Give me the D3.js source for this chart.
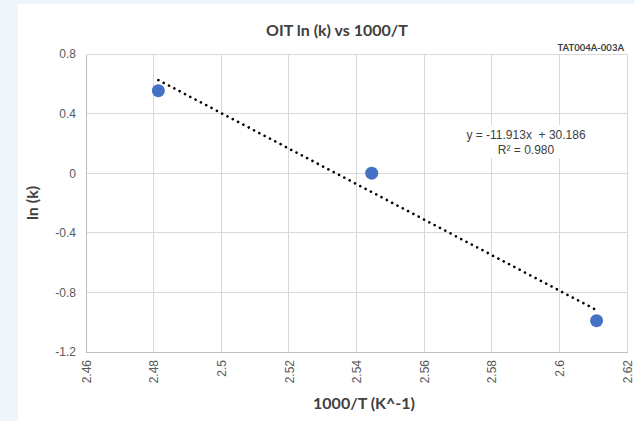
<!DOCTYPE html>
<html><head><meta charset="utf-8">
<script src="https://cdn.jsdelivr.net/npm/d3@7"></script>
<style>html,body{margin:0;padding:0;background:#fff;}svg{display:block;}</style>
</head><body>
<svg id="c" width="635" height="421"></svg>
<script>
const xValues = [2.4814, 2.5445, 2.6110];
const yValues = [0.554, 0.0, -0.99];
const xTicks = [2.46, 2.48, 2.5, 2.52, 2.54, 2.56, 2.58, 2.6, 2.62];
const yTicks = [0.8, 0.4, 0, -0.4, -0.8, -1.2];
const trendSlope = -11.913;
const trendIntercept = 30.186;
const title = "OIT ln (k) vs 1000/T";
const xTitle = "1000/T (K^-1)";
const yTitle = "ln (k)";
const tag = "TAT004A-003A";
const eqLines = ["y = -11.913x  + 30.186", "R² = 0.980"];

const svg = d3.select("#c");
// background
svg.append("rect").attr("x",0).attr("y",0).attr("width",635).attr("height",421).attr("fill","#eef5fb");
svg.append("rect").attr("x",18).attr("y",4).attr("width",617).attr("height",417).attr("fill","#ffffff");

const L=86, R=627, T=54, B=352;
const x = d3.scaleLinear().domain([2.46,2.62]).range([L,R]);
const y = d3.scaleLinear().domain([-1.2,0.8]).range([B,T]);

// gridlines
svg.append("g").selectAll("line").data(xTicks).join("line")
  .attr("x1",d=>x(d)).attr("x2",d=>x(d)).attr("y1",T).attr("y2",B)
  .attr("stroke","#d9d9d9").attr("stroke-width",1).attr("shape-rendering","crispEdges");
svg.append("g").selectAll("line").data(yTicks).join("line")
  .attr("x1",L).attr("x2",R).attr("y1",d=>y(d)).attr("y2",d=>y(d))
  .attr("stroke","#d9d9d9").attr("stroke-width",1).attr("shape-rendering","crispEdges");

// axes
const xAxis = d3.axisBottom(x).tickValues(xTicks).tickSize(0).tickFormat(d=>String(+d.toFixed(2)));
const gx = svg.append("g").attr("transform",`translate(0,${B})`).call(xAxis);
gx.select(".domain").attr("stroke","#bfbfbf").attr("shape-rendering","crispEdges");
gx.selectAll("text").attr("font-family","Liberation Sans, Arial, sans-serif").attr("font-size",12).attr("fill","#595959")
  .attr("transform","rotate(-90)").attr("text-anchor","end").attr("x",-8).attr("y",0).attr("dy","0.35em");

const yAxis = d3.axisLeft(y).tickValues(yTicks).tickSize(0).tickFormat(d=>String(+d.toFixed(1)));
const gy = svg.append("g").attr("transform",`translate(${L},0)`).call(yAxis);
gy.select(".domain").attr("stroke","#bfbfbf").attr("shape-rendering","crispEdges");
gy.selectAll("text").attr("font-family","Liberation Sans, Arial, sans-serif").attr("font-size",12).attr("fill","#595959").attr("x",-10);

// trendline
const tx = d3.extent(xValues);
const trend = tx.map(v=>[v, trendSlope*v+trendIntercept]);
svg.append("path").attr("d", d3.line().x(d=>x(d[0])).y(d=>y(d[1]))(trend))
  .attr("stroke","#000").attr("stroke-width",2.6).attr("stroke-dasharray","0.1 5.9").attr("stroke-linecap","round").attr("fill","none");

// points
svg.append("g").selectAll("circle").data(xValues.map((v,i)=>[v,yValues[i]])).join("circle")
  .attr("cx",d=>x(d[0])).attr("cy",d=>y(d[1])).attr("r",6.5).attr("fill","#4472c4");

// texts
const titleFont = "Lato, 'Open Sans', sans-serif";
svg.append("text").attr("x",337).attr("y",36).attr("text-anchor","middle").attr("font-family",titleFont)
  .attr("font-size",16).attr("font-weight","bold").attr("fill","#404040").text(title);
svg.append("text").attr("x",624).attr("y",51).attr("text-anchor","end").attr("font-family",titleFont)
  .attr("font-size",9.5).attr("font-weight","bold").attr("fill","#404040").text(tag);
svg.append("text").attr("x",364).attr("y",409).attr("text-anchor","middle").attr("font-family",titleFont)
  .attr("font-size",16).attr("font-weight","bold").attr("fill","#404040").text(xTitle);
svg.append("text").attr("transform",`translate(38,${(T+B)/2}) rotate(-90)`).attr("text-anchor","middle").attr("font-family",titleFont)
  .attr("font-size",16).attr("font-weight","bold").attr("fill","#404040").text(yTitle);
svg.append("rect").attr("x",458).attr("y",125).attr("width",138).attr("height",33).attr("fill","#ffffff");
svg.append("g").selectAll("text").data(eqLines).join("text")
  .attr("x",526).attr("y",(d,i)=>139+i*15).attr("text-anchor","middle")
  .attr("font-family","Liberation Sans, Arial, sans-serif").attr("font-size",12).attr("fill","#404040")
  .attr("xml:space","preserve").style("white-space","pre").text(d=>d);
</script>
</body></html>
